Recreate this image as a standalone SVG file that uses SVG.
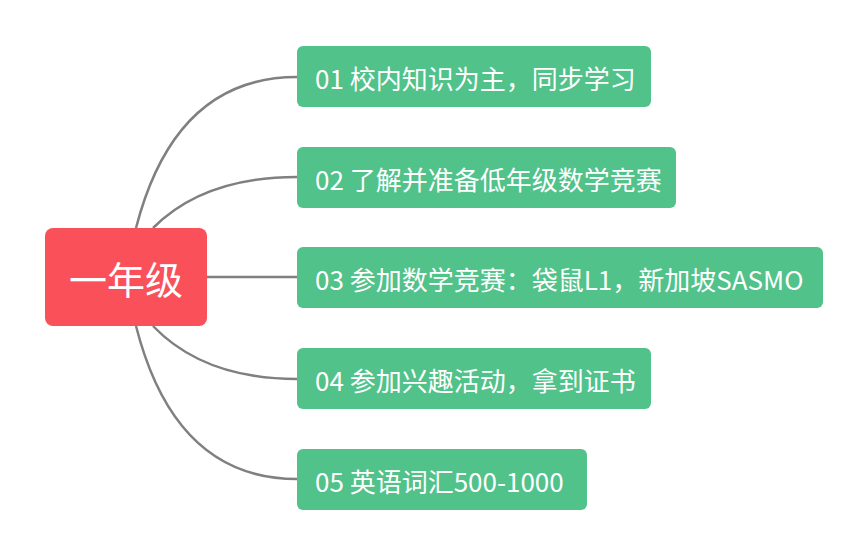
<svg xmlns="http://www.w3.org/2000/svg" width="868" height="553" viewBox="0 0 868 553">
<style>
.c{fill:none;stroke:#808080;stroke-width:2.5}
.g{fill:#50C28A}
.t{fill:#fff;font-family:"Noto Sans CJK SC","Noto Sans",sans-serif;font-size:26px;dominant-baseline:central}
.r{fill:#FA5059}
.rt{fill:#fff;font-family:"Noto Sans CJK SC","Noto Sans",sans-serif;font-size:38px;text-anchor:middle;dominant-baseline:central}
</style>
<rect width="868" height="553" fill="#fff"/>
<g id="connectors">
<path class="c" d="M136,228 Q175,77 297,77"/>
<path class="c" d="M153,228 Q204,177 297,177"/>
<path class="c" d="M206,277 L297,277"/>
<path class="c" d="M153,326 Q204,379 297,379"/>
<path class="c" d="M136,326 Q175,479 297,479"/>
</g>
<g id="root"><rect class="r" x="45" y="228" width="162" height="98" rx="8"/><text class="rt" x="126" y="277">一年级</text></g>
<g id="n1"><rect class="g" x="297" y="46" width="354" height="61" rx="6"/><text class="t" x="315" y="77">01 校内知识为主，同步学习</text></g>
<g id="n2"><rect class="g" x="297" y="147" width="379" height="61" rx="6"/><text class="t" x="315" y="178">02 了解并准备低年级数学竞赛</text></g>
<g id="n3"><rect class="g" x="297" y="247" width="526" height="61" rx="6"/><text class="t" x="315" y="278">03 参加数学竞赛：袋鼠L1，新加坡SASMO</text></g>
<g id="n4"><rect class="g" x="297" y="348" width="354" height="61" rx="6"/><text class="t" x="315" y="379">04 参加兴趣活动，拿到证书</text></g>
<g id="n5"><rect class="g" x="297" y="449" width="290" height="61" rx="6"/><text class="t" x="315" y="480">05 英语词汇500-1000</text></g>
</svg>
